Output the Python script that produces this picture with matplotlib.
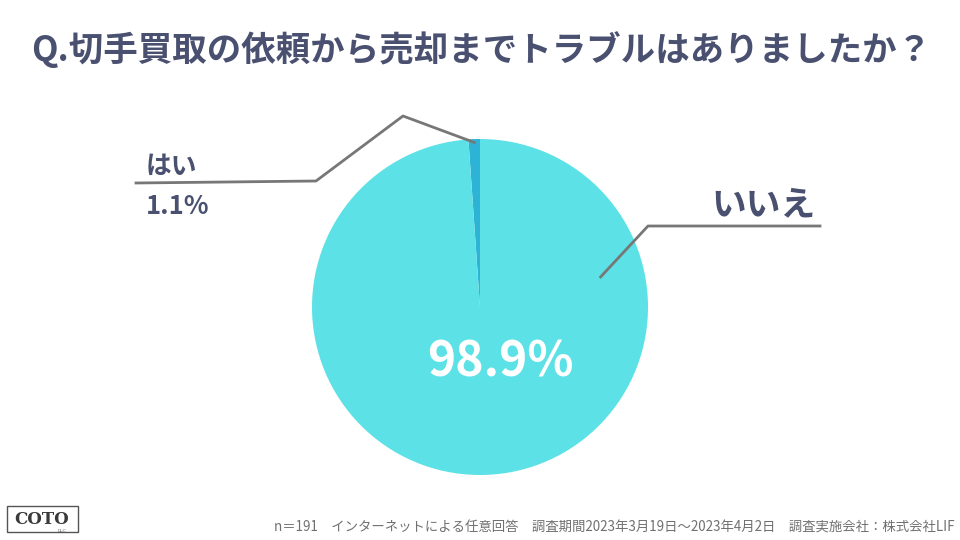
import numpy as np
import matplotlib
matplotlib.use("Agg")
import matplotlib.pyplot as plt
from matplotlib.patches import Rectangle

plt.rcParams['font.family'] = ['Noto Sans CJK JP', 'DejaVu Sans']

title = "Q.切手買取の依頼から売却までトラブルはありましたか？"
categories = ["はい", "いいえ"]
values = [1.1, 98.9]
colors = ["#2db3d6", "#5ce1e6"]
footer = "n＝191　インターネットによる任意回答　調査期間2023年3月19日〜2023年4月2日　調査実施会社：株式会社LIF"

W, H = 960, 540
fig = plt.figure(figsize=(9.6, 5.4), dpi=100)
fig.patch.set_facecolor("white")

cx, cy, r = 480, 307, 168
ax = fig.add_axes([(cx - r) / W, (H - cy - r) / H, 2 * r / W, 2 * r / H])
wedges, _ = ax.pie(values, colors=colors, startangle=90, counterclock=True,
                   radius=1, wedgeprops=dict(linewidth=0))
ax.set_xlim(-1, 1)
ax.set_ylim(-1, 1)
ax.set_aspect('equal')
ax.axis('off')

def px(x, y):
    return (x / W, 1 - y / H)

title_color = "#4a5070"
fig.text(*px(31, 50), title, fontsize=24.8, fontweight='bold', color=title_color,
         va='center', ha='left')

def wedge_point(w, frac_r, ang=None):
    a = np.deg2rad(ang if ang is not None else (w.theta1 + w.theta2) / 2)
    x = cx + r * frac_r * np.cos(a)
    y = cy - r * frac_r * np.sin(a)
    return x, y

line_color = "#777777"
sx, sy = wedge_point(wedges[0], 0.98)
pts = [(sx, sy), (403, 116), (316, 181), (136, 183)]
fig.add_artist(plt.Line2D([p[0] / W for p in pts], [1 - p[1] / H for p in pts],
                          transform=fig.transFigure, color=line_color, lw=2))
sx2, sy2 = wedge_point(wedges[1], 0.74, ang=14)
pts2 = [(sx2, sy2), (648, 226), (820, 226)]
fig.add_artist(plt.Line2D([p[0] / W for p in pts2], [1 - p[1] / H for p in pts2],
                          transform=fig.transFigure, color=line_color, lw=2))

fig.text(*px(146, 166), categories[0], fontsize=18.5, fontweight='bold',
         color=title_color, ha='left', va='center')
fig.text(*px(146, 207), f"{values[0]}%", fontsize=18.5, fontweight='bold',
         color=title_color, ha='left', va='center')
fig.text(*px(816, 205), categories[1], fontsize=25, fontweight='bold',
         color=title_color, ha='right', va='center')
fig.text(*px(500, 362), f"{values[1]}%", fontsize=34.5, fontweight='bold',
         color="white", ha='center', va='center')

fig.text(*px(955, 528), footer, fontsize=9.65, color="#707070", ha='right', va='center')

fig.add_artist(Rectangle((7 / W, 1 - 532 / H), 71 / W, 26 / H, transform=fig.transFigure,
                         fill=False, edgecolor="#555555", lw=1))
fig.text(*px(42, 519), "COTO", fontsize=12, fontweight='bold', family='DejaVu Serif',
         color="#3a3a3a", ha='center', va='center')
fig.text(*px(62, 531), "LLC", fontsize=3, family='DejaVu Serif',
         color="#555555", ha='center', va='center')

fig.savefig("out.png", dpi=100, facecolor="white")
